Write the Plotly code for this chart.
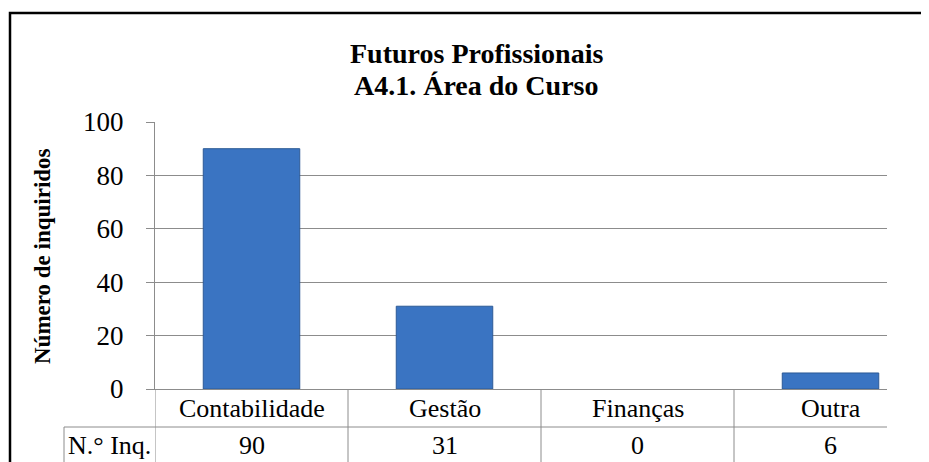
import plotly.graph_objects as go

categories = ["Contabilidade", "Gestão", "Finanças", "Outra"]
values = [90, 31, 0, 6]
row_label = "N.° Inq."
y_ticks = [0, 20, 40, 60, 80, 100]
title_lines = ["Futuros Profissionais", "A4.1. Área do Curso"]
y_title = "Número de inquiridos"

OFF = 8  # page body margin
W, H = 929 - OFF, 462 - OFF
L, R, T = 155 - OFF, 42, 122 - OFF
B = H - (389 - OFF)
PW, PH = W - L - R, H - T - B
FONT = "Liberation Serif"
GRID = "#8c8c8c"

def px_x(px):
    return (px - OFF - L) / PW

def px_y(py):
    return (H - B - (py - OFF)) / PH

cat_w = 193.0
x_end = -0.5 + PW / cat_w

fig = go.Figure()
fig.add_trace(go.Bar(
    x=list(range(len(categories))), y=values, width=0.5,
    marker=dict(color="#3a74c2",
                line=dict(color="#2c5a96", width=[1 if v > 0 else 0 for v in values])),
    hoverinfo="skip",
))

shapes = []
for i in range(len(categories)):
    shapes.append(dict(type="line", xref="x", yref="paper",
                       x0=i - 0.5, x1=i - 0.5, y0=0, y1=px_y(480),
                       line=dict(color=GRID, width=1)))
shapes.append(dict(type="line", xref="paper", yref="paper",
                   x0=px_x(64), x1=1, y0=px_y(427), y1=px_y(427),
                   line=dict(color=GRID, width=1)))
shapes.append(dict(type="line", xref="paper", yref="paper",
                   x0=px_x(64), x1=px_x(64), y0=px_y(427), y1=px_y(480),
                   line=dict(color=GRID, width=1)))
shapes.append(dict(type="rect", xref="paper", yref="paper",
                   x0=px_x(10), x1=px_x(945), y0=px_y(480), y1=px_y(13),
                   line=dict(color="black", width=2.5), fillcolor="rgba(0,0,0,0)",
                   layer="above"))

annotations = []
for i, c in enumerate(categories):
    annotations.append(dict(x=i, y=px_y(408), xref="x", yref="paper", text=c,
                            showarrow=False, xanchor="center", yanchor="middle",
                            font=dict(family=FONT, size=26, color="black")))
    annotations.append(dict(x=i, y=px_y(445), xref="x", yref="paper", text=str(values[i]),
                            showarrow=False, xanchor="center", yanchor="middle",
                            font=dict(family=FONT, size=26, color="black")))
annotations.append(dict(x=px_x(66), y=px_y(445), xref="paper", yref="paper", text=row_label,
                        showarrow=False, xanchor="left", yanchor="middle",
                        font=dict(family=FONT, size=26, color="black")))
annotations.append(dict(x=px_x(42), y=px_y(256), xref="paper", yref="paper", text="<b>" + y_title + "</b>",
                        showarrow=False, xanchor="center", yanchor="middle", textangle=-90,
                        font=dict(family=FONT, size=23, color="black")))
for t, py in zip(title_lines, [53, 86]):
    annotations.append(dict(x=px_x(476), y=px_y(py), xref="paper", yref="paper", text="<b>" + t + "</b>",
                            showarrow=False, xanchor="center", yanchor="middle",
                            font=dict(family=FONT, size=28, color="black")))

fig.update_layout(
    width=W, height=H,
    margin=dict(l=L, r=R, t=T, b=B, pad=0),
    paper_bgcolor="white", plot_bgcolor="white",
    showlegend=False,
    shapes=shapes, annotations=annotations,
    xaxis=dict(range=[-0.5, x_end], showticklabels=False, showgrid=False,
               showline=True, linecolor=GRID, linewidth=1, zeroline=False, ticks=""),
    yaxis=dict(range=[0, 100], tickvals=y_ticks, showgrid=True, gridcolor=GRID, gridwidth=1,
               showline=True, linecolor=GRID, linewidth=1, zeroline=False,
               ticks="outside", ticklen=8, tickcolor=GRID, ticklabelstandoff=17,
               tickfont=dict(family=FONT, size=27, color="black")),
)

fig.write_html("out.html")
